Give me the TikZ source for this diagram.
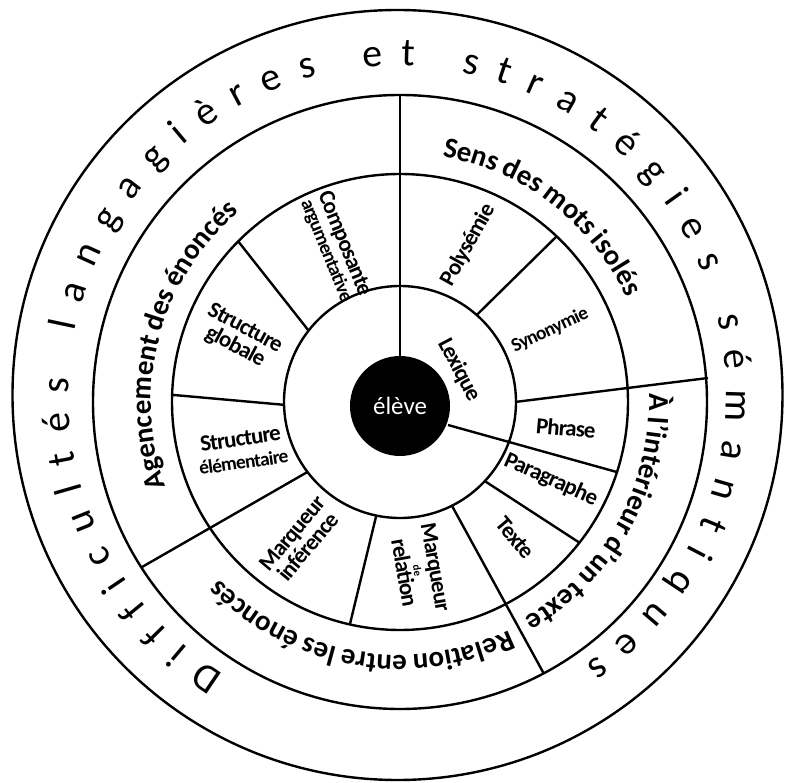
\documentclass[tikz,border=0pt]{standalone}
\usepackage{fontspec}
\setmainfont{Carlito}
\newfontfamily\tightfont[LetterSpace=-4]{Carlito}
\usetikzlibrary{decorations.text}

\newcommand\outerfont{\fontsize{40}{42}\selectfont}
\newcommand\bandfont{\tightfont\bfseries\fontsize{29}{30}\selectfont}
\newcommand\cellfont{\tightfont\bfseries\fontsize{23}{21}\selectfont}
\newcommand\smallcell{\tightfont\bfseries\fontsize{19.5}{18}\selectfont}

\tikzset{
  ring/.style={line width=2.4bp},
  cell/.style={font=\cellfont, inner sep=0pt, align=center},
  bandtext/.style={decorate, decoration={text along path, text align=center, text={|\bandfont|#1}}},
  outertext/.style={decorate, decoration={text along path, text align={fit to path}, text={|\outerfont|#1}}}
}

\begin{document}
\begin{tikzpicture}[x=1bp, y=1bp]
    \useasboundingbox (-400,-381) rectangle (387,402);

    \coordinate (O) at (0,0);
    \coordinate (O1) at (-2.5,7);

    % rings
    \draw[ring] (O1) circle (385);
    \draw[ring] (O) circle (307);
    \draw[ring] (O) circle (228);
    \draw[ring] (O) circle (116);

    % main sectors
    \draw[ring] (90:307) -- (0,46);
    \draw[ring] (115,0) -- (308,24);
    \draw[ring] (48,-23) -- (-17.9:228);
    \draw[ring] (-63.4:116) -- (-62.1:307);
    \draw[ring] (217.1:116) -- (212.6:307);

    % cells of the middle ring
    \draw[ring] (142:116) -- (135.2:228);
    \draw[ring] (181.4:116) -- (178.2:228);
    \draw[ring] (258.2:116) -- (257.3:228);
    \draw[ring] (-43:116) -- (-38.1:228);
    \draw[ring] (48.6:116) -- (46.6:228);

    \node[circle, fill=black, minimum size=100bp, inner sep=0pt, text=white,
          font=\fontsize{25}{25}\selectfont] (eleve) at (0,-4) {élève};

    % outer title
    \path[outertext={Difficultés langagières et stratégies sémantiques}]
        ([shift={(O1)}]238:329) arc[start angle=238, end angle=-55, radius=329];

    % band titles
    \path[bandtext={Sens des mots isolés}] (100:249) arc[start angle=100, end angle=5, radius=249];
    \path[bandtext={Agencement des énoncés}] (215:249) arc[start angle=215, end angle=115, radius=249];
    \path[bandtext={À l’intérieur d’un texte}] (20:249) arc[start angle=20, end angle=-78, radius=249];
    \path[bandtext={Relation entre les énoncés}] (-52:253) arc[start angle=-52, end angle=-148, radius=253];

    % cells
    \node[cell, rotate=-68] (compo) at (-64.5,155) {Composante\\[-2pt]{\smallcell argumentative}};
    \node[cell, rotate=-28] (sglob) at (-160,64) {Structure\\globale};
    \node[cell, rotate=8] (selem) at (-158,-48) {Structure\\[2pt]{\smallcell élémentaire}};
    \node[cell, rotate=50] (minf) at (-100,-138) {Marqueur\\inférence};
    \node[cell, rotate=-80] (mrel) at (20,-168) {Marqueur\\[-6pt]{\fontsize{11}{11}\selectfont de}\\[-4pt]relation};
    \node[cell, rotate=-50] (texte) at (115,-136) {Texte};
    \node[cell, rotate=-24] (parag) at (151,-78) {Paragraphe};
    \node[cell, rotate=-5] (phrase) at (166,-26) {Phrase};
    \node[cell, rotate=25, font=\smallcell] (syno) at (150,72) {Synonymie};
    \node[cell, rotate=61] (poly) at (68,157) {Polysémie};
    \node[cell, rotate=-62] (lex) at (59,32) {Lexique};
\end{tikzpicture}
\end{document}
